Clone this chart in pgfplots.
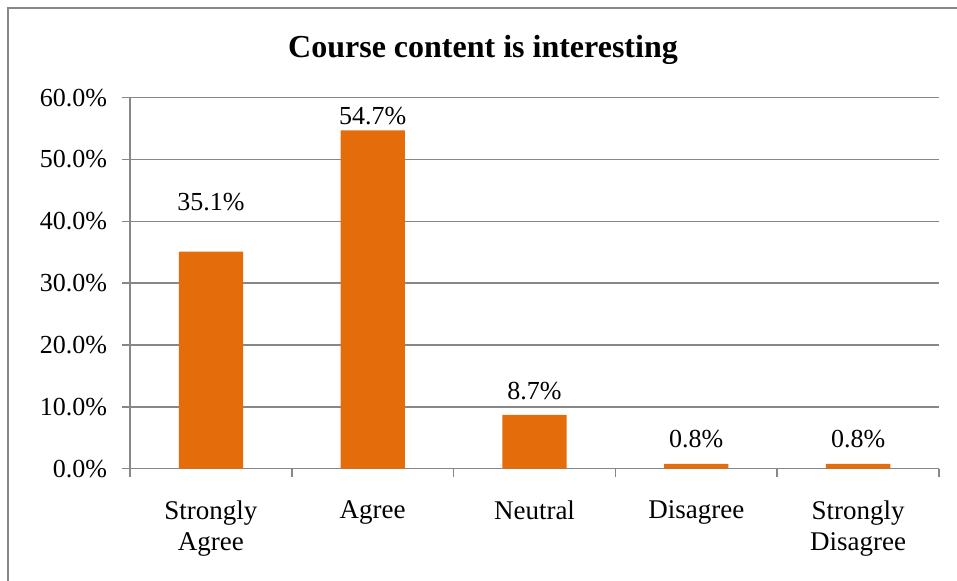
\documentclass[border=0pt]{standalone}
\usepackage{pgfplots}
\pgfplotsset{compat=1.18}
\usepackage{pgfplotstable}
\usepackage{fontspec}
\setmainfont{Liberation Serif}
\definecolor{barorange}{HTML}{E46C0A}
\definecolor{axisgray}{HTML}{878787}

% share of answers per category, dy = label offset above bar top (pt)
\pgfplotstableread{
x y dy
1 35.1 25
2 54.7 7
3 8.7 12
4 0.8 12.5
5 0.8 12.5
}\responses

\begin{document}
\begin{tikzpicture}
\useasboundingbox (0,0) rectangle (478.5pt,-290.5pt);
\draw[axisgray, line width=1pt] (4pt,-4pt) rectangle (600pt,-400pt);
\node[font=\fontsize{16}{19}\selectfont\bfseries, anchor=base] at (241.5pt,-29pt) {Course content is interesting};
\begin{axis}[
    at={(65pt,-234.35pt)}, anchor=south west,
    scale only axis, width=404.5pt, height=185.5pt,
    xmin=0.5, xmax=5.5, ymin=0, ymax=60,
    axis lines*=left,
    axis line style={axisgray, line width=0.75pt},
    ymajorgrids, grid style={axisgray, line width=0.75pt},
    tick align=outside, major tick length=4pt, minor tick length=4pt,
    tick style={axisgray, line width=0.75pt},
    ytick={0,10,...,60},
    yticklabel={\pgfmathprintnumber[fixed,fixed zerofill,precision=1]{\tick}\%},
    /pgf/number format/assume math mode=true,
    yticklabel style={font=\fontsize{13}{15}\selectfont, xshift=-4pt},
    xtick={1,...,5},
    xticklabels={{Strongly\\Agree},Agree,Neutral,Disagree,{Strongly\\Disagree}},
    major x tick style={draw=none},
    minor xtick={0.5,1.5,...,5.5},
    xticklabel style={font=\fontsize{13.5}{15.5}\selectfont, align=center, anchor=north, yshift=-8.5pt},
    ybar, bar width=32.15pt,
    clip=false,
    visualization depends on={\thisrow{dy} \as \labelshift},
    nodes near coords={\pgfmathprintnumber[fixed,fixed zerofill,precision=1]{\pgfplotspointmeta}\%},
    nodes near coords style={font=\fontsize{13}{15}\selectfont, anchor=center, yshift=\labelshift pt},
]
\addplot[fill=barorange, draw=none] table[x=x, y=y] {\responses};
\end{axis}
\end{tikzpicture}
\end{document}
